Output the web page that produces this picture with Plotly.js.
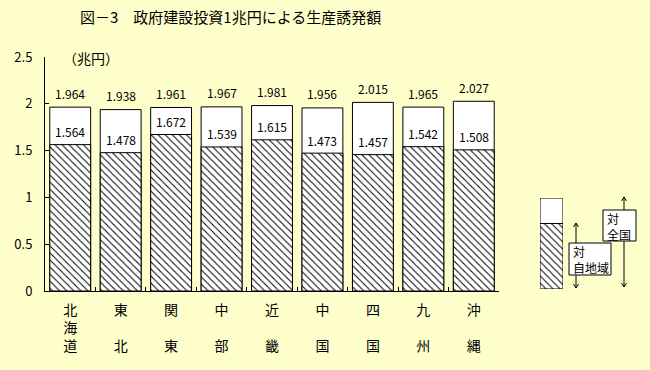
<!DOCTYPE html>
<html><head><meta charset="utf-8">
<script src="https://cdn.plot.ly/plotly-3.0.1.min.js"></script>
<style>html,body{margin:0;padding:0;background:#ffffcc;}#c{width:650px;height:370px;}</style>
</head><body><div id="c"></div>
<script>
const categories = ["北海道","東北","関東","中部","近畿","中国","四国","九州","沖縄"];
const tickLabels = ["北<br>海<br>道","東<br>　<br>北","関<br>　<br>東","中<br>　<br>部","近<br>　<br>畿","中<br>　<br>国","四<br>　<br>国","九<br>　<br>州","沖<br>　<br>縄"];
const totalValues = [1.964,1.938,1.961,1.967,1.981,1.956,2.015,1.965,2.027];
const selfValues = [1.564,1.478,1.672,1.539,1.615,1.473,1.457,1.542,1.508];
const legendTotal = [1];
const legendSelf = [0.72];
const titleText = "図－3　政府建設投資1兆円による生産誘発額";
const unitText = "（兆円）";
const legendSelfText = "対<br>自地域";
const legendTotalText = "対<br>全国";

const W = 650, H = 370;
const px = x => x / W;
const py = y => 1 - y / H;
const FONT = "Noto Sans CJK JP, sans-serif";
const hatch = {shape: "\\", fgcolor: "#000", bgcolor: "#fff", size: 5, solidity: 0.2};

const traces = [
  {type: "bar", x: categories, y: totalValues, marker: {color: "#fff", line: {color: "#000", width: 1}}, hoverinfo: "skip"},
  {type: "bar", x: categories, y: selfValues, marker: {color: "#fff", pattern: hatch, line: {color: "#000", width: 1}}, hoverinfo: "skip"},
  {type: "bar", x: [0], y: legendTotal, xaxis: "x2", yaxis: "y2", width: 1, marker: {color: "#fff", line: {color: "#000", width: 1}}, hoverinfo: "skip"},
  {type: "bar", x: [0], y: legendSelf, xaxis: "x2", yaxis: "y2", width: 1, marker: {color: "#fff", pattern: hatch, line: {color: "#000", width: 1}}, hoverinfo: "skip"}
];

const annotations = [];
categories.forEach((c, i) => {
  annotations.push({x: c, y: totalValues[i], xref: "x", yref: "y", text: totalValues[i].toFixed(3), showarrow: false, yanchor: "middle", yshift: 14, font: {family: FONT, size: 12, color: "#000"}});
  annotations.push({x: c, y: selfValues[i], xref: "x", yref: "y", text: selfValues[i].toFixed(3), showarrow: false, yanchor: "middle", yshift: 13, font: {family: FONT, size: 12, color: "#000"}});
});
annotations.push({x: px(230), y: py(17), xref: "paper", yref: "paper", text: titleText, showarrow: false, xanchor: "center", yanchor: "middle", font: {family: FONT, size: 15, color: "#000"}});
annotations.push({x: px(61), y: py(58), xref: "paper", yref: "paper", text: unitText, showarrow: false, xanchor: "left", yanchor: "middle", font: {family: FONT, size: 14, color: "#000"}});
annotations.push({x: px(571), y: py(259), xref: "paper", yref: "paper", text: legendSelfText, align: "left", showarrow: false, xanchor: "left", yanchor: "middle", font: {family: FONT, size: 12, color: "#000"}});
annotations.push({x: px(605), y: py(226), xref: "paper", yref: "paper", text: legendTotalText, align: "left", showarrow: false, xanchor: "left", yanchor: "middle", font: {family: FONT, size: 12, color: "#000"}});

function arrowPath(x, y1, y2) {
  const h = 4, w = 2.5;
  return `M${px(x)},${py(y1)} L${px(x)},${py(y2)} ` +
    `M${px(x - w)},${py(y1 + h)} L${px(x)},${py(y1)} L${px(x + w)},${py(y1 + h)} ` +
    `M${px(x - w)},${py(y2 - h)} L${px(x)},${py(y2)} L${px(x + w)},${py(y2 - h)}`;
}
const shapes = [
  {type: "path", xref: "paper", yref: "paper", path: arrowPath(576, 223, 288), line: {color: "#000", width: 1}},
  {type: "path", xref: "paper", yref: "paper", path: arrowPath(624, 197, 287), line: {color: "#000", width: 1}},
  {type: "rect", xref: "paper", yref: "paper", x0: px(569), x1: px(611), y0: py(275), y1: py(243), fillcolor: "#fff", line: {color: "#000", width: 1}},
  {type: "rect", xref: "paper", yref: "paper", x0: px(603), x1: px(636), y0: py(241), y1: py(210), fillcolor: "#fff", line: {color: "#000", width: 1}}
];

const layout = {
  width: W, height: H,
  margin: {l: 0, r: 0, t: 0, b: 0},
  paper_bgcolor: "#ffffcc", plot_bgcolor: "rgba(0,0,0,0)",
  showlegend: false,
  barmode: "overlay",
  bargap: 0.19,
  font: {family: FONT, size: 13, color: "#000"},
  xaxis: {domain: [px(45), px(499)], type: "category", tickmode: "array", tickvals: categories, ticktext: tickLabels,
          showline: true, linecolor: "#000", linewidth: 1, ticks: "inside", ticklen: 4, tickcolor: "#000", tickson: "boundaries",
          showgrid: false, zeroline: false, tickfont: {family: FONT, size: 14}, ticklabelstandoff: 6, automargin: false, fixedrange: true},
  yaxis: {domain: [py(291), py(57)], range: [0, 2.5], dtick: 0.5, tickformat: "", showline: true, linecolor: "#000", linewidth: 1,
          ticks: "inside", ticklen: 4, tickcolor: "#000", showgrid: false, zeroline: false, ticklabelstandoff: 9,
          tickfont: {family: FONT, size: 13}, automargin: false, fixedrange: true},
  xaxis2: {domain: [px(540), px(563)], anchor: "y2", range: [-0.5, 0.5], visible: false, fixedrange: true},
  yaxis2: {domain: [py(289), py(198)], anchor: "x2", range: [0, 1], visible: false, fixedrange: true},
  annotations: annotations,
  shapes: shapes
};
Plotly.newPlot("c", traces, layout, {displayModeBar: false, staticPlot: true});
</script></body></html>
